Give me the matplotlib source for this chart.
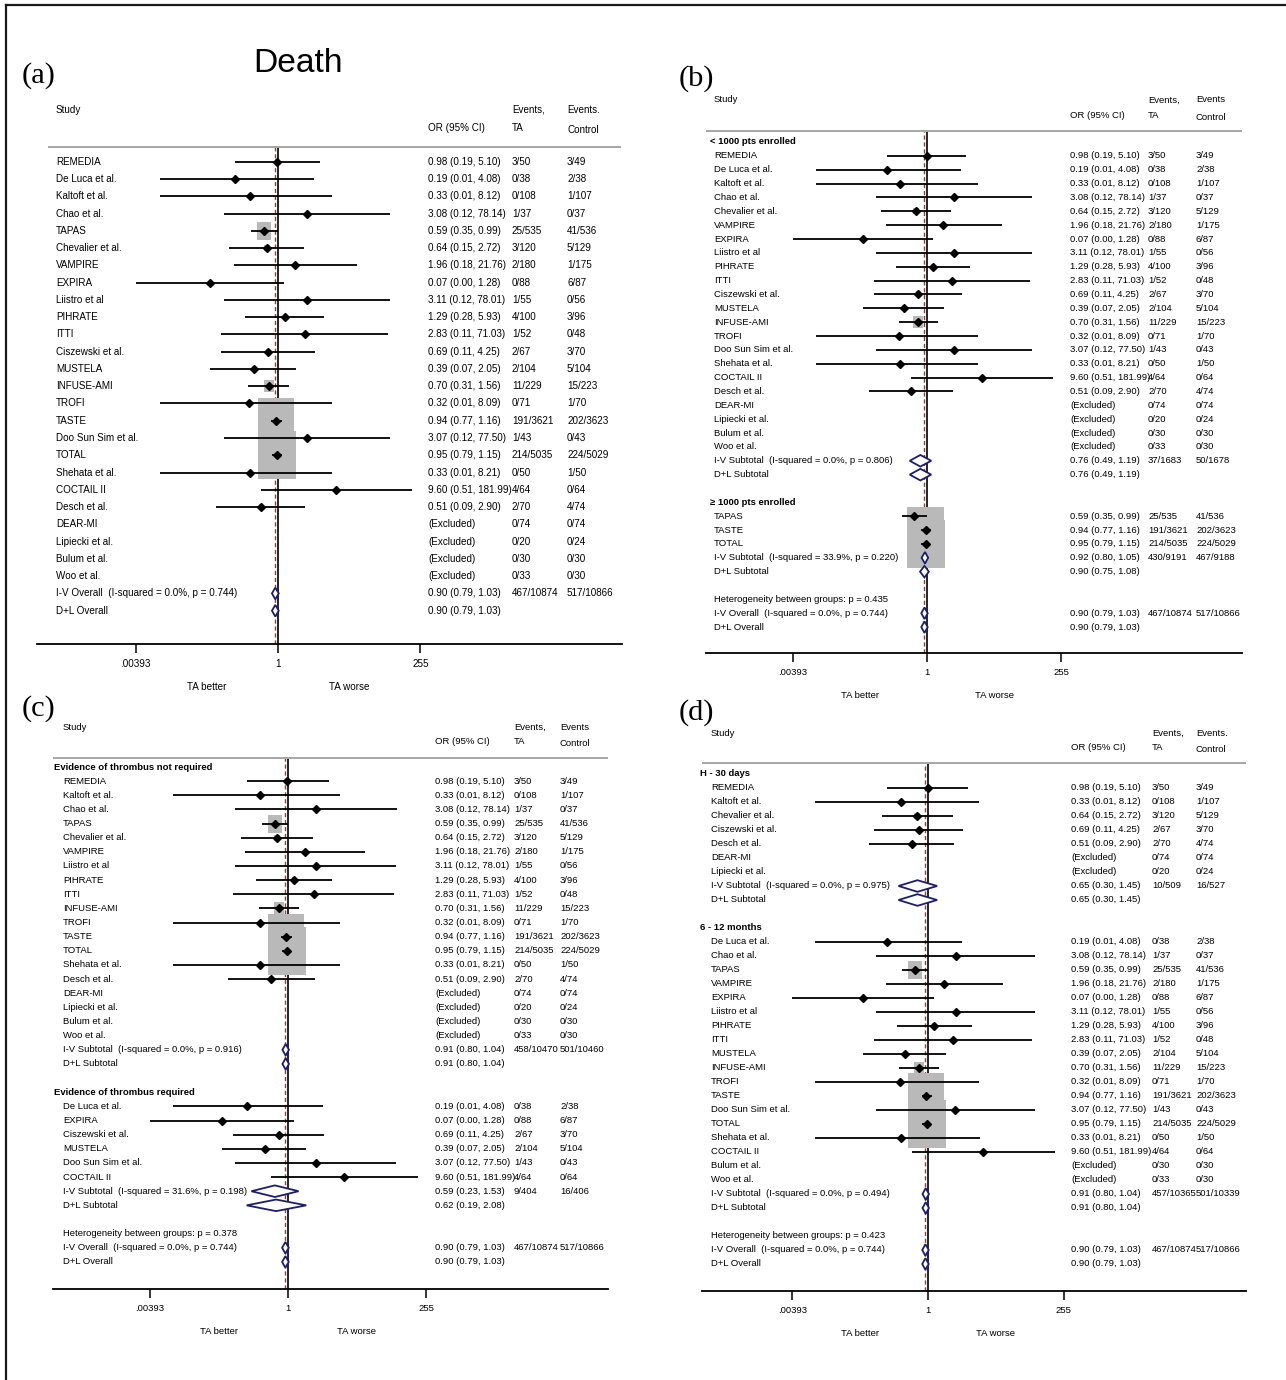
import numpy as np
import matplotlib
matplotlib.use("Agg")
import matplotlib.pyplot as plt
from matplotlib.path import Path
from matplotlib.lines import Line2D
from matplotlib.patches import Polygon
from matplotlib.ticker import NullLocator
from matplotlib.transforms import blended_transform_factory

SANS_LIST = ["Liberation Sans", "DejaVu Sans"]
SERIF = "Liberation Serif"

# ---------------- trial-level data ----------------
studies = ["REMEDIA", "De Luca et al.", "Kaltoft et al.", "Chao et al.", "TAPAS",
           "Chevalier et al.", "VAMPIRE", "EXPIRA", "Liistro et al", "PIHRATE", "ITTI",
           "Ciszewski et al.", "MUSTELA", "INFUSE-AMI", "TROFI", "TASTE",
           "Doo Sun Sim et al.", "TOTAL", "Shehata et al.", "COCTAIL II", "Desch et al.",
           "DEAR-MI", "Lipiecki et al.", "Bulum et al.", "Woo et al."]
odds_ratio = [0.98, 0.19, 0.33, 3.08, 0.59, 0.64, 1.96, 0.07, 3.11, 1.29, 2.83, 0.69,
              0.39, 0.70, 0.32, 0.94, 3.07, 0.95, 0.33, 9.60, 0.51, None, None, None, None]
ci_lower = [0.19, 0.01, 0.01, 0.12, 0.35, 0.15, 0.18, 0.00393, 0.12, 0.28, 0.11, 0.11,
            0.07, 0.31, 0.01, 0.77, 0.12, 0.79, 0.01, 0.51, 0.09, None, None, None, None]
ci_upper = [5.10, 4.08, 8.12, 78.14, 0.99, 2.72, 21.76, 1.28, 78.01, 5.93, 71.03, 4.25,
            2.05, 1.56, 8.09, 1.16, 77.50, 1.15, 8.21, 181.99, 2.90, None, None, None, None]
events_ta = [3, 0, 0, 1, 25, 3, 2, 0, 1, 4, 1, 2, 2, 11, 0, 191, 1, 214, 0, 4, 2, 0, 0, 0, 0]
patients_ta = [50, 38, 108, 37, 535, 120, 180, 88, 55, 100, 52, 67, 104, 229, 71, 3621,
               43, 5035, 50, 64, 70, 74, 20, 30, 33]
events_ctl = [3, 2, 1, 0, 41, 5, 1, 6, 0, 3, 0, 3, 5, 15, 1, 202, 0, 224, 1, 0, 4, 0, 0, 0, 0]
patients_ctl = [49, 38, 107, 37, 536, 129, 175, 87, 56, 96, 48, 70, 104, 223, 70, 3623,
                43, 5029, 50, 64, 74, 74, 24, 30, 30]

# ---------------- row order in each panel ----------------
order_a = ["REMEDIA", "De Luca et al.", "Kaltoft et al.", "Chao et al.", "TAPAS",
           "Chevalier et al.", "VAMPIRE", "EXPIRA", "Liistro et al", "PIHRATE", "ITTI",
           "Ciszewski et al.", "MUSTELA", "INFUSE-AMI", "TROFI", "TASTE",
           "Doo Sun Sim et al.", "TOTAL", "Shehata et al.", "COCTAIL II", "Desch et al.",
           "DEAR-MI", "Lipiecki et al.", "Bulum et al.", "Woo et al."]
b_small = ["REMEDIA", "De Luca et al.", "Kaltoft et al.", "Chao et al.", "Chevalier et al.",
           "VAMPIRE", "EXPIRA", "Liistro et al", "PIHRATE", "ITTI", "Ciszewski et al.",
           "MUSTELA", "INFUSE-AMI", "TROFI", "Doo Sun Sim et al.", "Shehata et al.",
           "COCTAIL II", "Desch et al.", "DEAR-MI", "Lipiecki et al.", "Bulum et al.",
           "Woo et al."]
b_large = ["TAPAS", "TASTE", "TOTAL"]
c_not_required = ["REMEDIA", "Kaltoft et al.", "Chao et al.", "TAPAS", "Chevalier et al.",
                  "VAMPIRE", "Liistro et al", "PIHRATE", "ITTI", "INFUSE-AMI", "TROFI",
                  "TASTE", "TOTAL", "Shehata et al.", "Desch et al.", "DEAR-MI",
                  "Lipiecki et al.", "Bulum et al.", "Woo et al."]
c_required = ["De Luca et al.", "EXPIRA", "Ciszewski et al.", "MUSTELA",
              "Doo Sun Sim et al.", "COCTAIL II"]
d_early = ["REMEDIA", "Kaltoft et al.", "Chevalier et al.", "Ciszewski et al.",
           "Desch et al.", "DEAR-MI", "Lipiecki et al."]
d_late = ["De Luca et al.", "Chao et al.", "TAPAS", "VAMPIRE", "EXPIRA", "Liistro et al",
          "PIHRATE", "ITTI", "MUSTELA", "INFUSE-AMI", "TROFI", "TASTE",
          "Doo Sun Sim et al.", "TOTAL", "Shehata et al.", "COCTAIL II", "Bulum et al.",
          "Woo et al."]

# ---------------- pooled estimates ----------------
# (label, OR, lower, upper, TA events, TA patients, control events, control patients)
overall_iv = ("I-V Overall  (I-squared = 0.0%, p = 0.744)", 0.90, 0.79, 1.03, 467, 10874, 517, 10866)
overall_dl = ("D+L Overall", 0.90, 0.79, 1.03, None, None, None, None)
b_small_iv = ("I-V Subtotal  (I-squared = 0.0%, p = 0.806)", 0.76, 0.49, 1.19, 37, 1683, 50, 1678)
b_small_dl = ("D+L Subtotal", 0.76, 0.49, 1.19, None, None, None, None)
b_large_iv = ("I-V Subtotal  (I-squared = 33.9%, p = 0.220)", 0.92, 0.80, 1.05, 430, 9191, 467, 9188)
b_large_dl = ("D+L Subtotal", 0.90, 0.75, 1.08, None, None, None, None)
c_not_iv = ("I-V Subtotal  (I-squared = 0.0%, p = 0.916)", 0.91, 0.80, 1.04, 458, 10470, 501, 10460)
c_not_dl = ("D+L Subtotal", 0.91, 0.80, 1.04, None, None, None, None)
c_req_iv = ("I-V Subtotal  (I-squared = 31.6%, p = 0.198)", 0.59, 0.23, 1.53, 9, 404, 16, 406)
c_req_dl = ("D+L Subtotal", 0.62, 0.19, 2.08, None, None, None, None)
d_early_iv = ("I-V Subtotal  (I-squared = 0.0%, p = 0.975)", 0.65, 0.30, 1.45, 10, 509, 16, 527)
d_early_dl = ("D+L Subtotal", 0.65, 0.30, 1.45, None, None, None, None)
d_late_iv = ("I-V Subtotal  (I-squared = 0.0%, p = 0.494)", 0.91, 0.80, 1.04, 457, 10365, 501, 10339)
d_late_dl = ("D+L Subtotal", 0.91, 0.80, 1.04, None, None, None, None)

het_b = "Heterogeneity between groups: p = 0.435"
het_c = "Heterogeneity between groups: p = 0.378"
het_d = "Heterogeneity between groups: p = 0.423"

axis_ticks = [0.00393, 1, 255]
axis_ticklabels = [".00393", "1", "255"]
overall_or = 0.90


def studies_of(names):
    return [("study", n) for n in names]


rows_a = studies_of(order_a) + [("pool", overall_iv), ("pool", overall_dl)]
rows_b = ([("group", "< 1000 pts enrolled")] + studies_of(b_small)
          + [("pool", b_small_iv), ("pool", b_small_dl), ("blank", None),
             ("group", "\u2265 1000 pts enrolled")] + studies_of(b_large)
          + [("pool", b_large_iv), ("pool", b_large_dl), ("blank", None),
             ("text", het_b), ("pool", overall_iv), ("pool", overall_dl)])
rows_c = ([("group", "Evidence of thrombus not required")] + studies_of(c_not_required)
          + [("pool", c_not_iv), ("pool", c_not_dl), ("blank", None),
             ("group", "Evidence of thrombus required")] + studies_of(c_required)
          + [("pool", c_req_iv), ("pool", c_req_dl), ("blank", None),
             ("text", het_c), ("pool", overall_iv), ("pool", overall_dl)])
rows_d = ([("group", "H - 30 days")] + studies_of(d_early)
          + [("pool", d_early_iv), ("pool", d_early_dl), ("blank", None),
             ("group", "6 - 12 months")] + studies_of(d_late)
          + [("pool", d_late_iv), ("pool", d_late_dl), ("blank", None),
             ("text", het_d), ("pool", overall_iv), ("pool", overall_dl)])

# ---------------- panel geometry (pixels) ----------------
GEOM = {
    "a": dict(x0=37, x1=622, hx0=48, hx1=621, xone=278, k=25.7, yaxis=644, yhead=147,
              row0=161.7, sp=17.27, name_x=56, group_x=56, or_x=428, ta_x=512, ctl_x=567,
              head_y1=110, head_y2=128, study_x=56, label=(22, 76), tag="(a)",
              ev2="Events.", scale=1.04),
    "b": dict(x0=706, x1=1242, hx0=706, hx1=1242, xone=927, k=24.2, yaxis=653, yhead=131,
              row0=142, sp=13.86, name_x=714, group_x=710, or_x=1070, ta_x=1148, ctl_x=1196,
              head_y1=100, head_y2=116, study_x=714, label=(679, 79), tag="(b)",
              ev2="Events", scale=1.0),
    "c": dict(x0=53, x1=608, hx0=53, hx1=608, xone=288, k=24.9, yaxis=1289, yhead=758,
              row0=767, sp=14.14, name_x=63, group_x=54, or_x=435, ta_x=514, ctl_x=560,
              head_y1=727, head_y2=742, study_x=63, label=(22, 709), tag="(c)",
              ev2="Events", scale=1.0),
    "d": dict(x0=702, x1=1246, hx0=702, hx1=1246, xone=928, k=24.5, yaxis=1291, yhead=763,
              row0=774, sp=14.0, name_x=711, group_x=700, or_x=1071, ta_x=1152, ctl_x=1196,
              head_y1=733, head_y2=748, study_x=711, label=(679, 713), tag="(d)",
              ev2="Events.", scale=1.0),
}

W, H, DPI = 1286, 1380, 100
BOX_AREA = 11.4          # marker area (pt^2) per unit of inverse-variance weight
DIAMOND_HALF_PX = 5.8
BOX_COLOR = "#b9b9b9"
NAVY = "#1d1d6e"

BOX_MARKER = Path([(-0.4, -0.5), (0.4, -0.5), (0.4, 0.5), (-0.4, 0.5), (-0.4, -0.5)],
                  [Path.MOVETO, Path.LINETO, Path.LINETO, Path.LINETO, Path.CLOSEPOLY])

fig = plt.figure(figsize=(W / DPI, H / DPI), dpi=DPI)
fig.patch.set_facecolor("white")
renderer = fig.canvas.get_renderer()


def fit_size(sample, width_px, **kw):
    """Font size at which `sample` is `width_px` pixels wide."""
    t = fig.text(0, 0, sample, fontsize=10, **kw)
    w = t.get_window_extent(renderer=renderer).width
    t.remove()
    return 10.0 * width_px / w


BASE_FS = fit_size("0.98 (0.19, 5.10)", 69, family=SANS_LIST)
DEATH_FS = fit_size("Death", 90, family=SANS_LIST)
TAG_FS = fit_size("(a)", 34, family=SERIF)


def iv_weight(a, n1, c, n2):
    cells = np.array([a, n1 - a, c, n2 - c], dtype=float)
    if (cells == 0).any():
        cells = cells + 0.5
    return 1.0 / np.sum(1.0 / cells)


def fmt_or(o, lo, hi):
    return "%.2f (%.2f, %.2f)" % (o, lo, hi)


def draw_panel(g, rows):
    fs = BASE_FS * g["scale"]
    font = dict(family=SANS_LIST)
    ax = fig.add_axes([g["x0"] / W, 1 - g["yaxis"] / H,
                       (g["x1"] - g["x0"]) / W, (g["yaxis"] - g["yhead"]) / H])
    ax.set_xscale("log")
    ax.set_xlim(np.exp((g["x0"] - g["xone"]) / g["k"]), np.exp((g["x1"] - g["xone"]) / g["k"]))
    r_top = (g["yhead"] - g["row0"]) / g["sp"]
    r_bot = (g["yaxis"] - g["row0"]) / g["sp"]
    ax.set_ylim(r_bot, r_top)
    ax.patch.set_alpha(0)
    for s in ("left", "right", "top"):
        ax.spines[s].set_visible(False)
    ax.spines["bottom"].set_linewidth(1.3)
    ax.set_yticks([])
    ax.set_xticks(axis_ticks)
    ax.set_xticklabels(axis_ticklabels, fontsize=fs, **font)
    ax.xaxis.set_minor_locator(NullLocator())
    ax.tick_params(axis="x", direction="out", length=6.5, width=1.1, pad=4.5)

    tr = blended_transform_factory(ax.transAxes, ax.transData)
    span = float(g["x1"] - g["x0"])

    def fx(px):
        return (px - g["x0"]) / span

    def ry(py):
        return (py - g["row0"]) / g["sp"]

    def put(px, r, s, **kw):
        kw.setdefault("fontsize", fs)
        ax.text(fx(px), r, s, transform=tr, ha="left", va="center", clip_on=False,
                color="black", **font, **kw)

    # header
    ax.plot([fx(g["hx0"]), fx(g["hx1"])], [r_top, r_top], transform=tr, color="#a6a6a6",
            lw=1.4, clip_on=False, solid_capstyle="butt")
    put(g["study_x"], ry(g["head_y1"]), "Study")
    put(g["or_x"], ry(g["head_y2"]), "OR (95% CI)")
    put(g["ta_x"], ry(g["head_y1"]), "Events,")
    put(g["ta_x"], ry(g["head_y2"]), "TA")
    put(g["ctl_x"], ry(g["head_y1"]), g["ev2"])
    put(g["ctl_x"], ry(g["head_y2"] + 2), "Control")

    # reference lines
    ax.axvline(1, color="black", lw=1.2, zorder=1)
    ax.axvline(overall_or, color="#8a4040", lw=1.0, ls=(0, (3, 2)), zorder=1.1)

    dh = DIAMOND_HALF_PX / g["sp"]
    for r, (kind, item) in enumerate(rows):
        if kind == "group":
            put(g["group_x"], r, item, fontweight="bold")
        elif kind == "text":
            put(g["name_x"], r, item)
        elif kind == "study":
            i = studies.index(item)
            put(g["name_x"], r, item)
            put(g["ta_x"], r, "%d/%d" % (events_ta[i], patients_ta[i]))
            put(g["ctl_x"], r, "%d/%d" % (events_ctl[i], patients_ctl[i]))
            if odds_ratio[i] is None:
                put(g["or_x"], r, "(Excluded)")
                continue
            put(g["or_x"], r, fmt_or(odds_ratio[i], ci_lower[i], ci_upper[i]))
            w = iv_weight(events_ta[i], patients_ta[i], events_ctl[i], patients_ctl[i])
            ax.scatter([odds_ratio[i]], [r], s=BOX_AREA * w, marker=BOX_MARKER,
                       c=BOX_COLOR, linewidths=0, zorder=2)
            ax.plot([ci_lower[i], ci_upper[i]], [r, r], color="black", lw=1.3, zorder=3,
                    solid_capstyle="butt")
            ax.plot([odds_ratio[i]], [r], marker="D", ms=4.3, color="black", zorder=4)
        elif kind == "pool":
            label, o, lo, hi, a1, n1, c1, n2 = item
            put(g["name_x"], r, label)
            put(g["or_x"], r, fmt_or(o, lo, hi))
            if a1 is not None:
                put(g["ta_x"], r, "%d/%d" % (a1, n1))
                put(g["ctl_x"], r, "%d/%d" % (c1, n2))
            ax.add_patch(Polygon([(lo, r), (o, r - dh), (hi, r), (o, r + dh)], closed=True,
                                 facecolor="white", edgecolor=NAVY, lw=1.3, zorder=5))

    # favours labels, centred between the axis limits and the line of no effect
    r_fav = ry(g["yaxis"] + 43)
    for xv, s in ((np.sqrt(axis_ticks[0] * axis_ticks[1]), "TA better"),
                  (np.sqrt(axis_ticks[2] * axis_ticks[1]), "TA worse")):
        ax.text(xv, r_fav, s, ha="center", va="center", fontsize=fs, clip_on=False, **font)

    # panel tag
    lx, ly = g["label"]
    fig.text(lx / W, 1 - ly / H, g["tag"], family=SERIF, fontsize=TAG_FS,
             ha="left", va="center")
    return ax


draw_panel(GEOM["a"], rows_a)
draw_panel(GEOM["b"], rows_b)
draw_panel(GEOM["c"], rows_c)
draw_panel(GEOM["d"], rows_d)

fig.text(298 / W, 1 - 63 / H, "Death", family=SANS_LIST, fontsize=DEATH_FS,
         ha="center", va="center")

# frame around the figure
fig.add_artist(Line2D([6 / W, 1.0], [1 - 5 / H, 1 - 5 / H], transform=fig.transFigure,
                      color="#1a1a1a", lw=1.6))
fig.add_artist(Line2D([6 / W, 6 / W], [0.0, 1 - 5 / H], transform=fig.transFigure,
                      color="#1a1a1a", lw=1.6))

fig.savefig("out.png", dpi=DPI, facecolor="white")
